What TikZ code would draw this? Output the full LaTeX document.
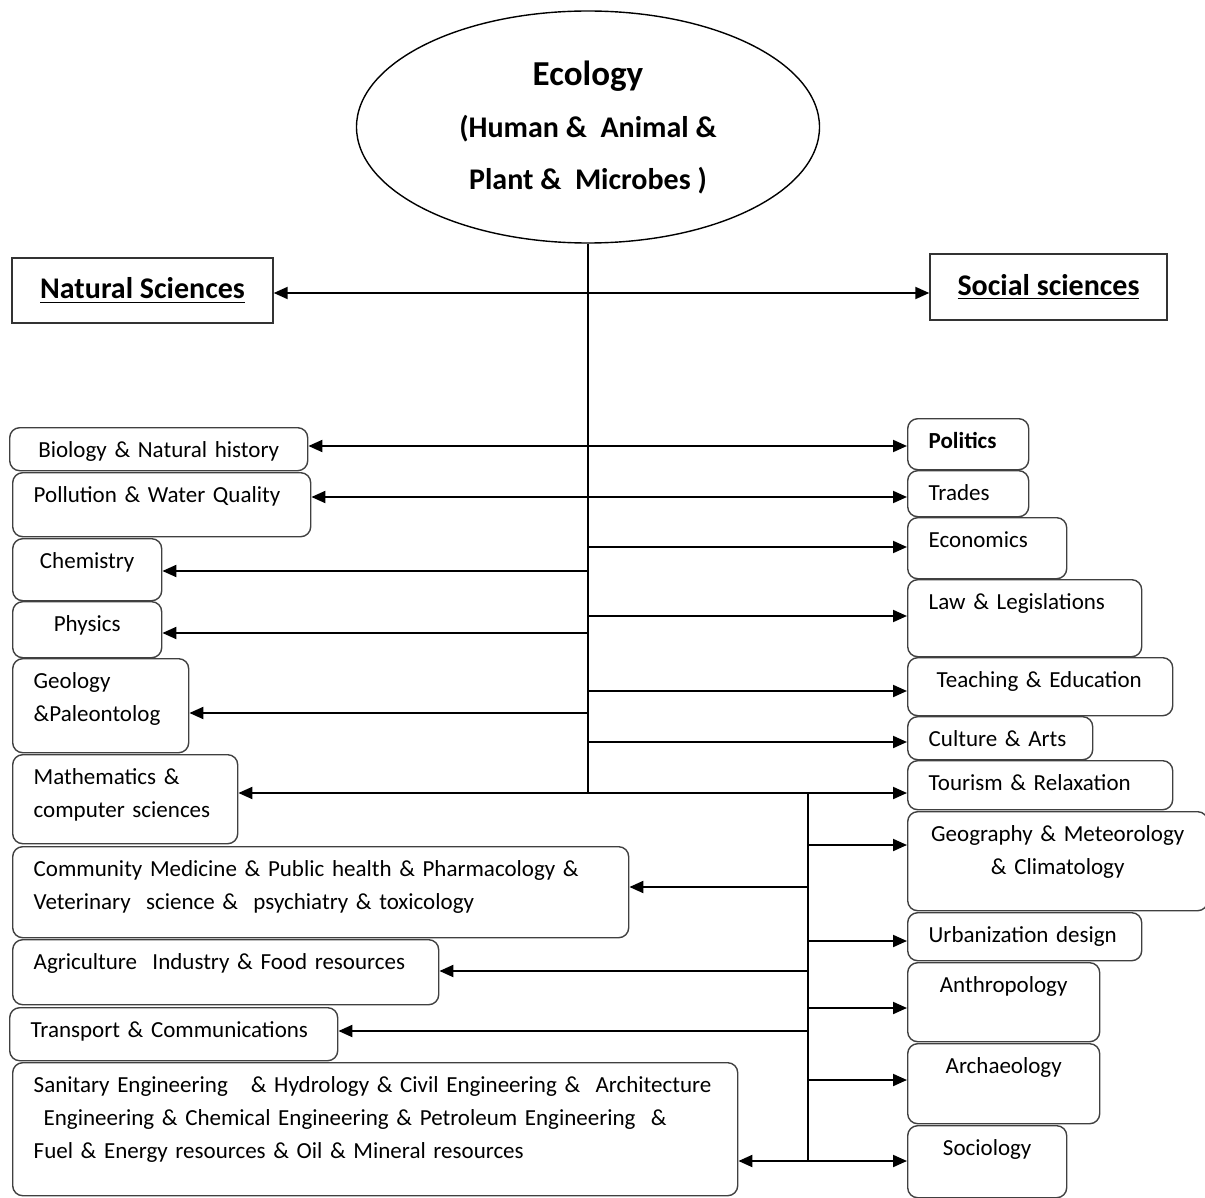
\documentclass[tikz,border=0pt]{standalone}
\usepackage{fontspec}
\setmainfont{Carlito}
\usepackage{tikz}
\usetikzlibrary{shapes.geometric, arrows.meta}
\newcommand\Lbl{\fontsize{11.5}{16.5}\selectfont}
\newcommand\Hdr{\fontsize{15}{26}\selectfont\bfseries}

\begin{document}
\begin{tikzpicture}[x=0.5pt, y=-0.5pt, >={Triangle[length=7pt, width=6pt]},
    field/.style={draw=black!75, line width=0.7pt, rounded corners=5pt, anchor=north west,
      inner xsep=10.5pt, inner ysep=0pt, text height=15pt, align=left, font=\Lbl},
    fsize/.style 2 args={text width={(#1-42)*0.5pt}, text depth={(#2-30)*0.5pt}},
    head/.style={draw=black!80, line width=0.7pt, font=\Hdr, minimum width=130.5pt, minimum height=32.5pt},
    conn/.style={line width=1pt}]
                \useasboundingbox (0,0) rectangle (1205,1198);
                \node[ellipse, draw, line width=0.7pt, minimum width=231.5pt, minimum height=116pt, align=center, font=\Hdr] (eco) at (588,127)
                  {{\fontsize{17.5}{26}\selectfont Ecology}\\(Human \&~ Animal \&\\Plant \&~ Microbes~)};
                \node[head] (natsci) at (142.5,290.5) {\underline{Natural Sciences}};
                \node[head, minimum width=118.5pt, minimum height=33pt] (socsci) at (1048.5,287) {\underline{Social sciences}};
                % natural sciences
                \node[field, fsize={298}{43}, align=center] (bio) at (9,427) {Biology \& Natural history};
                \node[field, fsize={298}{64}] (pw) at (12,472) {Pollution \& Water Quality};
                \node[field, fsize={149}{62}, align=center] (chem) at (12,538) {Chemistry};
                \node[field, fsize={149}{56}, align=center] (phy) at (12,601) {Physics};
                \node[field, fsize={176}{94}] (geo) at (12,658) {Geology\\\&Paleontolog};
                \node[field, fsize={225}{89}] (math) at (12,754) {Mathematics \&\\computer sciences};
                \node[field, fsize={616}{91}] (comm) at (12,846) {Community Medicine \& Public health \& Pharmacology \&\\Veterinary~ science \&~ psychiatry \& toxicology};
                \node[field, fsize={426}{65}] (agri) at (12,939) {Agriculture~ Industry \& Food resources};
                \node[field, fsize={328}{53}] (trans) at (9,1007) {Transport \& Communications};
                \node[field, fsize={725}{133}] (sanit) at (12,1062) {Sanitary Engineering~~ \& Hydrology \& Civil Engineering \&~ Architecture\\\hspace*{5pt}Engineering \& Chemical Engineering \& Petroleum Engineering~ \&\\Fuel \& Energy resources \& Oil \& Mineral resources};
                % social sciences
                \node[field, fsize={121}{51}] (pol) at (907,418) {\textbf{Politics}};
                \node[field, fsize={121}{46}] (trd) at (907,470) {Trades};
                \node[field, fsize={159}{61}] (econ) at (907,517) {Economics};
                \node[field, fsize={234}{77}] (law) at (907,579) {Law \& Legislations};
                \node[field, fsize={265}{58}] (teach) at (907,657) {\hspace*{4pt}Teaching \& Education};
                \node[field, fsize={185}{43}] (cult) at (907,716) {Culture \& Arts};
                \node[field, fsize={265}{49}] (tour) at (907,760) {Tourism \& Relaxation};
                \node[field, fsize={300}{99}, align=center, inner xsep=3pt, text width=144pt] (geog) at (907,811) {Geography \& Meteorology\\\& Climatology};
                \node[field, fsize={234}{48}] (urb) at (907,912) {Urbanization design};
                \node[field, fsize={192}{79}, align=center] (anth) at (907,962) {Anthropology};
                \node[field, fsize={192}{80}, align=center] (arch) at (907,1043) {Archaeology};
                \node[field, fsize={159}{72}, align=center] (socio) at (907,1125) {Sociology};
                % trunk and fork
                \coordinate (trunkend) at (588,793);
                \coordinate (fork) at (808,793);
                \coordinate (forkend) at (808,1161);
                \draw[conn] (eco.south) -- (trunkend);
                \draw[conn] (fork) -- (forkend);
                \foreach \a/\b/\y in {natsci/socsci/293, bio/pol/446, pw/trd/497, math/tour/793, sanit/socio/1161}{
                  \coordinate (r\y) at (588,\y);
                  \draw[conn, <->] (\a.east |- r\y) -- (\b.west |- r\y);
                }
                \foreach \n/\x/\y/\s in {econ/588/547/west, chem/588/571/east, law/588/616/west, phy/588/633/east,
                    teach/588/691/west, geo/588/713/east, cult/588/742/west,
                    geog/808/845/west, comm/808/887/east, urb/808/941/west, agri/808/971/east,
                    anth/808/1008/west, trans/808/1031/east, arch/808/1080/west}{
                  \coordinate (t\n) at (\x,\y);
                  \draw[conn, ->] (t\n) -- (\n.\s |- t\n);
                }
            \end{tikzpicture}
\end{document}
